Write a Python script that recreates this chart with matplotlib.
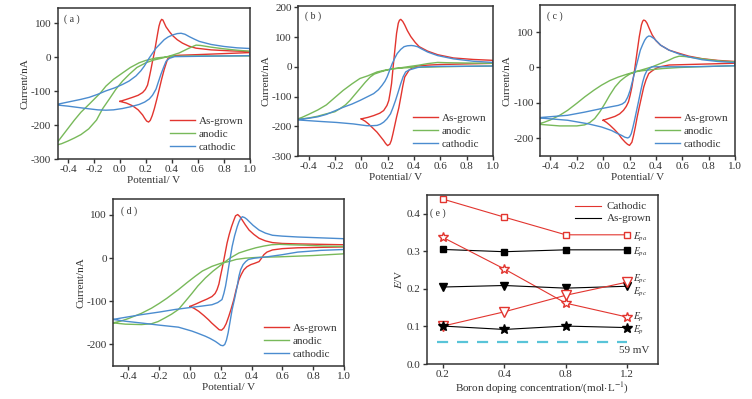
import numpy as np
import matplotlib
matplotlib.use("Agg")
import matplotlib.pyplot as plt

plt.rcParams['font.family'] = ['Liberation Serif', 'DejaVu Serif']
plt.rcParams['mathtext.fontset'] = 'stix'
plt.rcParams['font.size'] = 8

# CV loops: (potential V, current nA), traced round the loop
a_red = [(0.0, -130), (0.05, -124), (0.097, -118), (0.14, -112), (0.174, -104), (0.195, -95), (0.212, -82),
         (0.225, -60), (0.238, -36), (0.25, -12), (0.264, 13), (0.277, 42), (0.29, 71), (0.3, 92), (0.31, 105),
         (0.32, 112), (0.33, 110), (0.342, 100), (0.354, 90), (0.38, 76), (0.405, 64), (0.44, 52), (0.48, 42),
         (0.53, 33), (0.585, 27), (0.7, 22), (0.85, 19), (1.0, 17),
         (1.0, 14), (0.8, 11), (0.6, 8), (0.45, 6), (0.405, 4), (0.38, 0), (0.366, -5), (0.355, -18), (0.34, -36),
         (0.32, -65), (0.302, -94), (0.283, -124), (0.264, -152), (0.248, -172), (0.233, -186), (0.22, -191),
         (0.205, -188), (0.19, -180), (0.174, -170), (0.14, -155), (0.097, -143), (0.05, -135), (0.0, -130)]
a_green = [(-0.5, -260), (-0.45, -255), (-0.4, -247), (-0.35, -238), (-0.3, -228), (-0.24, -211), (-0.18, -185),
           (-0.134, -152), (-0.08, -122), (-0.031, -94), (0.02, -70), (0.072, -50), (0.13, -30), (0.2, -16),
           (0.26, -8), (0.328, -2), (0.4, 6), (0.456, 13), (0.52, 25), (0.56, 32), (0.585, 36), (0.62, 35),
           (0.7, 30), (0.8, 25), (0.9, 21), (1.0, 18),
           (1.0, 4), (0.8, 4), (0.6, 4), (0.4, 3), (0.277, -2), (0.2, -9), (0.148, -16), (0.08, -30), (0.02, -46),
           (-0.05, -65), (-0.108, -85), (-0.15, -105), (-0.236, -138), (-0.3, -162), (-0.35, -185), (-0.4, -210),
           (-0.45, -235), (-0.5, -260)]
a_blue = [(-0.5, -140), (-0.4, -132), (-0.3, -124), (-0.236, -118), (-0.17, -109), (-0.108, -99), (-0.04, -90),
          (0.02, -80), (0.07, -70), (0.123, -55), (0.16, -40), (0.187, -26), (0.225, -2), (0.25, 12), (0.277, 27),
          (0.31, 40), (0.34, 52), (0.37, 60), (0.405, 66), (0.44, 70), (0.47, 71), (0.5, 68), (0.533, 61),
          (0.57, 54), (0.61, 47), (0.7, 38), (0.8, 32), (0.9, 28), (1.0, 26),
          (1.0, 5), (0.8, 4), (0.6, 3), (0.42, 2), (0.38, -3), (0.354, -12), (0.335, -30), (0.315, -50),
          (0.295, -73), (0.277, -94), (0.25, -112), (0.225, -123), (0.19, -132), (0.148, -139), (0.08, -146),
          (0.02, -151), (-0.05, -155), (-0.108, -156), (-0.17, -155), (-0.236, -152), (-0.3, -149), (-0.4, -144),
          (-0.5, -140)]

b_red = [(0.0, -175), (0.05, -170), (0.094, -164), (0.14, -156), (0.17, -147), (0.195, -130), (0.209, -113),
         (0.22, -85), (0.23, -56), (0.242, 0), (0.255, 57), (0.268, 113), (0.281, 147), (0.29, 157), (0.3, 160),
         (0.315, 153), (0.33, 141), (0.35, 122), (0.376, 102), (0.41, 82), (0.44, 68), (0.504, 53), (0.58, 41),
         (0.7, 30), (0.85, 25), (1.0, 22),
         (1.0, 12), (0.8, 10), (0.6, 8), (0.504, 6), (0.43, 3), (0.4, 0), (0.363, -11), (0.33, -34), (0.315, -65),
         (0.3, -102), (0.285, -138), (0.268, -169), (0.24, -226), (0.228, -248), (0.217, -260), (0.2, -265),
         (0.185, -258), (0.17, -248), (0.145, -234), (0.12, -220), (0.09, -207), (0.055, -192), (0.03, -183),
         (0.0, -175)]
b_green = [(-0.5, -178), (-0.4, -172), (-0.33, -166), (-0.265, -158), (-0.2, -151), (-0.163, -141), (-0.12, -128),
           (-0.086, -113), (-0.05, -94), (-0.01, -73), (0.03, -52), (0.068, -34), (0.1, -24), (0.145, -17),
           (0.2, -10), (0.248, -6), (0.3, -4), (0.376, -2), (0.58, 0), (0.8, 2), (1.0, 3),
           (1.0, 12), (0.8, 13), (0.65, 14), (0.58, 15), (0.504, 11), (0.44, 6), (0.376, 2), (0.3, -3),
           (0.248, -6), (0.18, -11), (0.12, -17), (0.05, -30), (-0.01, -39), (-0.07, -57), (-0.137, -79),
           (-0.2, -103), (-0.265, -128), (-0.33, -145), (-0.4, -160), (-0.45, -170), (-0.5, -178)]
b_blue = [(-0.5, -178), (-0.4, -173), (-0.33, -168), (-0.265, -160), (-0.2, -148), (-0.137, -136), (-0.07, -125),
          (-0.01, -113), (0.04, -102), (0.094, -90), (0.13, -77), (0.158, -62), (0.18, -48), (0.196, -34),
          (0.215, -12), (0.235, 11), (0.255, 30), (0.273, 45), (0.3, 59), (0.325, 68), (0.35, 71), (0.38, 72),
          (0.4, 71), (0.427, 68), (0.46, 60), (0.504, 50), (0.58, 38), (0.7, 27), (0.85, 19), (1.0, 15),
          (1.0, 3), (0.8, 2), (0.6, 2), (0.46, 0), (0.427, -2), (0.39, -7), (0.365, -10), (0.337, -17),
          (0.318, -33), (0.3, -56), (0.28, -85), (0.26, -113), (0.24, -138), (0.222, -158), (0.195, -175),
          (0.17, -186), (0.145, -193), (0.12, -197), (0.08, -198), (0.042, -198), (-0.01, -195), (-0.06, -192),
          (-0.188, -187), (-0.3, -184), (-0.4, -181), (-0.5, -178)]

c_red = [(0.0, -149), (0.05, -143), (0.09, -138), (0.125, -131), (0.154, -121), (0.175, -110), (0.192, -97),
         (0.205, -78), (0.218, -55), (0.238, -8), (0.256, 40), (0.274, 87), (0.29, 120), (0.3, 131), (0.308, 134),
         (0.32, 132), (0.333, 125), (0.35, 110), (0.372, 92), (0.4, 76), (0.436, 63), (0.5, 49), (0.577, 40),
         (0.65, 32), (0.75, 25), (0.87, 20), (1.0, 17),
         (1.0, 12), (0.8, 10), (0.6, 8), (0.5, 7), (0.43, 2), (0.398, -3), (0.37, -10), (0.346, -17), (0.325, -35),
         (0.308, -55), (0.29, -85), (0.274, -112), (0.258, -140), (0.244, -168), (0.23, -193), (0.218, -211),
         (0.2, -220), (0.185, -217), (0.167, -211), (0.14, -200), (0.115, -187), (0.085, -175), (0.051, -163),
         (0.025, -155), (0.0, -149)]
c_green = [(-0.5, -160), (-0.4, -163), (-0.33, -165), (-0.27, -165), (-0.2, -165), (-0.14, -162), (-0.1, -155),
           (-0.064, -144), (-0.025, -125), (0.013, -102), (0.05, -78), (0.09, -55), (0.13, -38), (0.167, -27),
           (0.2, -19), (0.244, -12), (0.3, -9), (0.372, -6), (0.45, -3), (0.577, 0), (0.8, 3), (1.0, 5),
           (1.0, 16), (0.9, 18), (0.8, 22), (0.7, 27), (0.62, 31), (0.577, 32), (0.54, 28), (0.5, 21), (0.44, 12),
           (0.372, 2), (0.3, -6), (0.244, -12), (0.18, -19), (0.115, -27), (0.05, -37), (-0.013, -50),
           (-0.07, -64), (-0.14, -83), (-0.2, -101), (-0.27, -121), (-0.33, -135), (-0.4, -148), (-0.45, -155),
           (-0.5, -160)]
c_blue = [(-0.5, -142), (-0.4, -139), (-0.27, -135), (-0.14, -126), (-0.013, -116), (0.115, -107), (0.145, -103),
          (0.167, -97), (0.187, -83), (0.205, -64), (0.23, -27), (0.256, 11), (0.282, 49), (0.3, 65), (0.315, 77),
          (0.33, 85), (0.346, 89), (0.36, 88), (0.385, 82), (0.41, 73), (0.436, 63), (0.5, 49), (0.577, 38),
          (0.65, 30), (0.75, 22), (0.87, 17), (1.0, 14),
          (1.0, 5), (0.8, 3), (0.6, 2), (0.45, 2), (0.372, 2), (0.35, -3), (0.333, -8), (0.315, -22), (0.3, -41),
          (0.285, -66), (0.27, -93), (0.254, -121), (0.238, -149), (0.225, -170), (0.213, -187), (0.2, -196),
          (0.187, -199), (0.165, -197), (0.141, -192), (0.1, -185), (0.064, -178), (-0.013, -168),
          (-0.115, -159), (-0.27, -149), (-0.4, -145), (-0.5, -142)]

d_red = [(0.0, -112), (0.04, -106), (0.077, -100), (0.11, -95), (0.143, -89), (0.163, -82), (0.176, -73),
         (0.188, -60), (0.198, -42), (0.21, -22), (0.22, -4), (0.241, 35), (0.255, 55), (0.27, 73), (0.285, 88),
         (0.296, 98), (0.31, 101), (0.325, 96), (0.34, 88), (0.36, 77), (0.384, 65), (0.415, 55), (0.449, 46),
         (0.49, 40), (0.536, 36), (0.6, 34), (0.7, 33), (0.85, 32), (1.0, 31),
         (1.0, 26), (0.85, 25), (0.7, 24), (0.6, 22), (0.536, 19), (0.5, 14), (0.48, 8), (0.465, 0), (0.449, -8),
         (0.42, -12), (0.395, -15), (0.37, -20), (0.35, -27), (0.333, -38), (0.318, -50), (0.3, -73),
         (0.285, -96), (0.268, -117), (0.252, -135), (0.235, -152), (0.22, -162), (0.205, -167), (0.19, -166),
         (0.165, -158), (0.14, -150), (0.121, -143), (0.09, -133), (0.056, -123), (0.025, -116), (0.0, -112)]
d_green = [(-0.5, -150), (-0.42, -153), (-0.316, -154), (-0.25, -152), (-0.207, -147), (-0.16, -138),
           (-0.12, -130), (-0.075, -119), (-0.03, -100), (0.012, -82), (0.05, -65), (0.1, -46), (0.15, -30),
           (0.208, -14), (0.26, 0), (0.318, 12), (0.37, 18), (0.428, 24), (0.48, 28), (0.53, 31), (0.58, 32),
           (0.65, 31), (0.75, 30), (0.87, 28), (1.0, 27),
           (1.0, 10), (0.8, 6), (0.58, 3), (0.45, 2), (0.362, 0), (0.3, -3), (0.252, -8), (0.2, -12),
           (0.143, -19), (0.08, -30), (0.034, -42), (-0.02, -57), (-0.075, -73), (-0.15, -93), (-0.2, -105),
           (-0.25, -116), (-0.316, -128), (-0.4, -140), (-0.45, -146), (-0.5, -150)]
d_blue = [(-0.5, -142), (-0.4, -136), (-0.316, -131), (-0.2, -125), (-0.097, -119), (0.012, -114), (0.08, -111),
          (0.143, -108), (0.18, -103), (0.208, -96), (0.22, -82), (0.231, -65), (0.242, -42), (0.252, -19),
          (0.263, 4), (0.274, 27), (0.29, 52), (0.307, 73), (0.318, 84), (0.329, 92), (0.34, 96), (0.355, 94),
          (0.37, 90), (0.384, 85), (0.41, 76), (0.449, 65), (0.49, 58), (0.536, 53), (0.6, 51), (0.7, 49),
          (0.85, 47), (1.0, 45),
          (1.0, 20), (0.85, 18), (0.7, 14), (0.6, 8), (0.5, 3), (0.42, 0), (0.38, -3), (0.362, -8), (0.345, -15),
          (0.329, -27), (0.318, -42), (0.307, -65), (0.29, -94), (0.274, -119), (0.26, -148), (0.248, -173),
          (0.237, -190), (0.226, -200), (0.215, -203), (0.2, -202), (0.185, -198), (0.165, -193), (0.13, -186),
          (0.1, -181), (0.05, -174), (0.012, -169), (-0.075, -160), (-0.207, -155), (-0.3, -151),
          (-0.425, -146), (-0.5, -142)]

# (e) peak potentials vs boron doping concentration
conc_labels = ['0.2', '0.4', '0.8', '1.2']
cath_Epa = [0.439, 0.391, 0.344, 0.344]
grown_Epa = [0.305, 0.299, 0.304, 0.304]
cath_dEp = [0.337, 0.253, 0.162, 0.125]
grown_Epc = [0.205, 0.209, 0.202, 0.207]
cath_Epc = [0.101, 0.139, 0.183, 0.218]
grown_dEp = [0.101, 0.092, 0.101, 0.097]
theory_dEp = 0.059

RED = '#e2352f'
GREEN = '#78b95a'
BLUE = '#4b8ccf'
INK = '#333333'

fig = plt.figure(figsize=(7.52, 3.99), dpi=100)


def style(ax):
    for s in ax.spines.values():
        s.set_linewidth(1.1)
        s.set_color(INK)
    ax.tick_params(direction='out', length=3, width=1, colors=INK, labelsize=8, pad=1.5)


def cv_panel(rect, loops, ylim, yticks, tag):
    ax = fig.add_axes(rect)
    for pts, col, lab in zip(loops, [RED, GREEN, BLUE], ['As-grown', 'anodic', 'cathodic']):
        e, i = np.array(pts).T
        ax.plot(e, i, color=col, lw=1.0, label=lab, solid_joinstyle='round')
    ax.set_xlim(-0.48, 1.0)
    ax.set_ylim(*ylim)
    ax.set_xticks([-0.4, -0.2, 0.0, 0.2, 0.4, 0.6, 0.8, 1.0])
    ax.set_xticklabels(['-0.4', '-0.2', '0.0', '0.2', '0.4', '0.6', '0.8', '1.0'])
    ax.set_yticks(yticks)
    ax.set_yticklabels([str(v) if v >= 0 else '-' + str(-v) for v in yticks])
    ax.set_xlabel('Potential/ V', color=INK, labelpad=1)
    ax.set_ylabel('Current/nA', color=INK, labelpad=1)
    ax.text(0.035, 0.93, '( ' + tag + ' )', transform=ax.transAxes, fontsize=7, color=INK, va='center')
    ax.legend(loc='lower right', frameon=False, fontsize=8, handlelength=2.3, handletextpad=0.3,
              labelspacing=0.3, borderaxespad=0.2, labelcolor=INK)
    style(ax)
    return ax


cv_panel([0.0765, 0.6015, 0.256, 0.378], [a_red, a_green, a_blue], (-300, 145), [-300, -200, -100, 0, 100], 'a')
cv_panel([0.3963, 0.609, 0.2593, 0.376], [b_red, b_green, b_blue], (-300, 205), [-300, -200, -100, 0, 100, 200], 'b')
cv_panel([0.718, 0.609, 0.2593, 0.378], [c_red, c_green, c_blue], (-250, 176), [-200, -100, 0, 100], 'c')
axd = cv_panel([0.1503, 0.0827, 0.307, 0.4185], [d_red, d_green, d_blue], (-250, 137), [-200, -100, 0, 100], 'd')
axd.set_xlim(-0.5, 1.0)

# panel (e)
ax = fig.add_axes([0.5678, 0.0877, 0.307, 0.4236])
x = np.arange(len(conc_labels))
ms = 5.0
ax.plot(x, cath_Epa, color=RED, lw=0.8, marker='s', ms=ms, mfc='white', mec=RED, mew=1.0, label='Cathodic')
ax.plot(x, grown_Epa, color='black', lw=0.8, marker='s', ms=ms, mfc='black', mec='black', label='As-grown')
ax.plot(x, cath_dEp, color=RED, lw=0.8, marker='*', ms=ms + 2, mfc='white', mec=RED, mew=1.0)
ax.plot(x, grown_Epc, color='black', lw=0.8, marker='v', ms=ms + 0.5, mfc='black', mec='black')
ax.plot(x, cath_Epc, color=RED, lw=0.8, marker='v', ms=ms + 1.5, mfc='white', mec=RED, mew=1.0)
ax.plot(x, grown_dEp, color='black', lw=0.8, marker='*', ms=ms + 2, mfc='black', mec='black')
ax.hlines(theory_dEp, x[0] - 0.1, x[-1], colors='#58c4d8', lw=1.6, linestyles=(0, (5, 4)))
ax.text(x[-1] + 0.12, 0.037, '59 mV', fontsize=8, color=INK, ha='center', va='center')

# series names beside the last points
lx = x[-1] + 0.09
lab_fs = 7
ax.text(lx, 0.336, '$E_{pa}$', fontsize=lab_fs, color=INK, va='center')
ax.text(lx, 0.296, '$E_{pa}$', fontsize=lab_fs, color=INK, va='center')
ax.text(lx, 0.225, '$E_{pc}$', fontsize=lab_fs, color=INK, va='center')
ax.text(lx, 0.191, '$E_{pc}$', fontsize=lab_fs, color=INK, va='center')
ax.text(lx, 0.125, '$E_{p}$', fontsize=lab_fs, color=INK, va='center')
ax.text(lx, 0.090, '$E_{p}$', fontsize=lab_fs, color=INK, va='center')

ax.set_xlim(-0.26, 3.5)
ax.set_ylim(0, 0.45)
ax.set_xticks(x)
ax.set_xticklabels(conc_labels)
ax.set_yticks([0.0, 0.1, 0.2, 0.3, 0.4])
ax.set_yticklabels(['0.0', '0.1', '0.2', '0.3', '0.4'])
ax.set_xlabel('Boron doping concentration/(mol$\\cdot$L$^{-1}$)', color=INK, labelpad=1)
ax.set_ylabel('$E$/V', color=INK, labelpad=2)
ax.text(0.015, 0.89, '( e )', transform=ax.transAxes, fontsize=7, color=INK, va='center')
ax.legend(handles=ax.lines[:2], loc='upper right', frameon=False, fontsize=8, handlelength=2.3,
          handletextpad=0.5, labelspacing=0.2, borderaxespad=0.2, labelcolor=INK)
for h in ax.get_legend().legend_handles:
    h.set_marker('')
style(ax)

fig.savefig('out.png', dpi=100)
